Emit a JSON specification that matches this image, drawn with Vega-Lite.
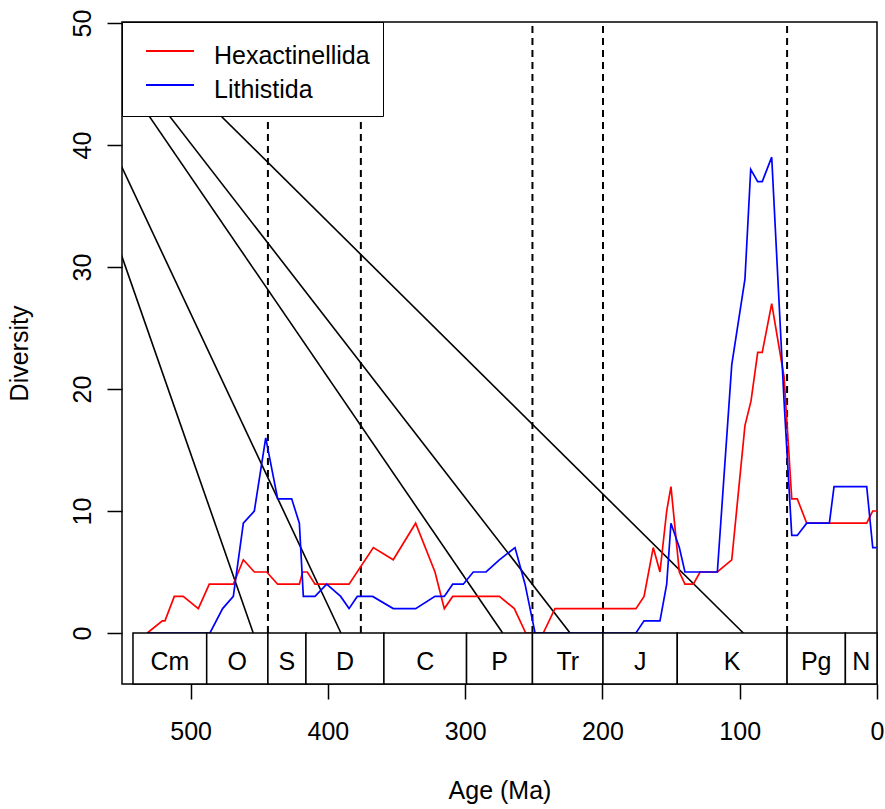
{
  "$schema": "https://vega.github.io/schema/vega-lite/v6.json",
  "width": 755,
  "height": 662,
  "autosize": "none",
  "padding": {"left": 122, "top": 22, "right": 8, "bottom": 125},
  "background": "white",
  "config": {
    "view": {"stroke": "black", "strokeWidth": 1.5},
    "font": "Liberation Sans",
    "text": {"font": "Liberation Sans"}
  },
  "datasets": {
    "div": [
      {"taxon": "Hexactinellida", "age": 531.6, "div": 0},
      {"taxon": "Hexactinellida", "age": 520.6, "div": 1},
      {"taxon": "Hexactinellida", "age": 518.7, "div": 1},
      {"taxon": "Hexactinellida", "age": 511.9, "div": 3},
      {"taxon": "Hexactinellida", "age": 505.4, "div": 3},
      {"taxon": "Hexactinellida", "age": 494.4, "div": 2},
      {"taxon": "Hexactinellida", "age": 486.4, "div": 4},
      {"taxon": "Hexactinellida", "age": 468.9, "div": 4},
      {"taxon": "Hexactinellida", "age": 461.6, "div": 6},
      {"taxon": "Hexactinellida", "age": 453.6, "div": 5},
      {"taxon": "Hexactinellida", "age": 444.6, "div": 5},
      {"taxon": "Hexactinellida", "age": 436.6, "div": 4},
      {"taxon": "Hexactinellida", "age": 420.8, "div": 4},
      {"taxon": "Hexactinellida", "age": 418.4, "div": 5},
      {"taxon": "Hexactinellida", "age": 415.0, "div": 5},
      {"taxon": "Hexactinellida", "age": 409.4, "div": 4},
      {"taxon": "Hexactinellida", "age": 384.6, "div": 4},
      {"taxon": "Hexactinellida", "age": 366.9, "div": 7},
      {"taxon": "Hexactinellida", "age": 352.4, "div": 6},
      {"taxon": "Hexactinellida", "age": 336.1, "div": 9},
      {"taxon": "Hexactinellida", "age": 322.0, "div": 5},
      {"taxon": "Hexactinellida", "age": 315.2, "div": 2},
      {"taxon": "Hexactinellida", "age": 309.1, "div": 3},
      {"taxon": "Hexactinellida", "age": 275.1, "div": 3},
      {"taxon": "Hexactinellida", "age": 264.2, "div": 2},
      {"taxon": "Hexactinellida", "age": 255.9, "div": 0},
      {"taxon": "Hexactinellida", "age": 243.1, "div": 0},
      {"taxon": "Hexactinellida", "age": 234.6, "div": 2},
      {"taxon": "Hexactinellida", "age": 175.6, "div": 2},
      {"taxon": "Hexactinellida", "age": 169.7, "div": 3},
      {"taxon": "Hexactinellida", "age": 163.0, "div": 7},
      {"taxon": "Hexactinellida", "age": 158.1, "div": 5},
      {"taxon": "Hexactinellida", "age": 153.2, "div": 10},
      {"taxon": "Hexactinellida", "age": 150.1, "div": 12},
      {"taxon": "Hexactinellida", "age": 144.0, "div": 5},
      {"taxon": "Hexactinellida", "age": 139.9, "div": 4},
      {"taxon": "Hexactinellida", "age": 133.8, "div": 4},
      {"taxon": "Hexactinellida", "age": 128.9, "div": 5},
      {"taxon": "Hexactinellida", "age": 116.3, "div": 5},
      {"taxon": "Hexactinellida", "age": 105.8, "div": 6},
      {"taxon": "Hexactinellida", "age": 96.2, "div": 17},
      {"taxon": "Hexactinellida", "age": 91.8, "div": 19},
      {"taxon": "Hexactinellida", "age": 86.9, "div": 23},
      {"taxon": "Hexactinellida", "age": 83.6, "div": 23},
      {"taxon": "Hexactinellida", "age": 76.7, "div": 27},
      {"taxon": "Hexactinellida", "age": 67.7, "div": 21},
      {"taxon": "Hexactinellida", "age": 62.1, "div": 11},
      {"taxon": "Hexactinellida", "age": 58.1, "div": 11},
      {"taxon": "Hexactinellida", "age": 51.2, "div": 9},
      {"taxon": "Hexactinellida", "age": 7.5, "div": 9},
      {"taxon": "Hexactinellida", "age": 3.1, "div": 10},
      {"taxon": "Hexactinellida", "age": 0.2, "div": 10},
      {"taxon": "Lithistida", "age": 531.6, "div": 0},
      {"taxon": "Lithistida", "age": 485.9, "div": 0},
      {"taxon": "Lithistida", "age": 476.7, "div": 2},
      {"taxon": "Lithistida", "age": 468.9, "div": 3},
      {"taxon": "Lithistida", "age": 461.6, "div": 9},
      {"taxon": "Lithistida", "age": 453.6, "div": 10},
      {"taxon": "Lithistida", "age": 445.3, "div": 16},
      {"taxon": "Lithistida", "age": 436.6, "div": 11},
      {"taxon": "Lithistida", "age": 426.4, "div": 11},
      {"taxon": "Lithistida", "age": 420.8, "div": 9},
      {"taxon": "Lithistida", "age": 417.9, "div": 3},
      {"taxon": "Lithistida", "age": 409.4, "div": 3},
      {"taxon": "Lithistida", "age": 400.9, "div": 4},
      {"taxon": "Lithistida", "age": 390.7, "div": 3},
      {"taxon": "Lithistida", "age": 384.6, "div": 2},
      {"taxon": "Lithistida", "age": 378.6, "div": 3},
      {"taxon": "Lithistida", "age": 367.4, "div": 3},
      {"taxon": "Lithistida", "age": 352.4, "div": 2},
      {"taxon": "Lithistida", "age": 336.1, "div": 2},
      {"taxon": "Lithistida", "age": 322.0, "div": 3},
      {"taxon": "Lithistida", "age": 315.2, "div": 3},
      {"taxon": "Lithistida", "age": 309.1, "div": 4},
      {"taxon": "Lithistida", "age": 301.4, "div": 4},
      {"taxon": "Lithistida", "age": 294.1, "div": 5},
      {"taxon": "Lithistida", "age": 284.8, "div": 5},
      {"taxon": "Lithistida", "age": 275.1, "div": 6},
      {"taxon": "Lithistida", "age": 263.7, "div": 7},
      {"taxon": "Lithistida", "age": 256.4, "div": 4},
      {"taxon": "Lithistida", "age": 249.1, "div": 0},
      {"taxon": "Lithistida", "age": 175.6, "div": 0},
      {"taxon": "Lithistida", "age": 169.7, "div": 1},
      {"taxon": "Lithistida", "age": 158.1, "div": 1},
      {"taxon": "Lithistida", "age": 153.2, "div": 4},
      {"taxon": "Lithistida", "age": 150.1, "div": 9},
      {"taxon": "Lithistida", "age": 144.0, "div": 7},
      {"taxon": "Lithistida", "age": 139.9, "div": 5},
      {"taxon": "Lithistida", "age": 116.3, "div": 5},
      {"taxon": "Lithistida", "age": 105.8, "div": 22},
      {"taxon": "Lithistida", "age": 96.2, "div": 29},
      {"taxon": "Lithistida", "age": 92.0, "div": 38},
      {"taxon": "Lithistida", "age": 86.9, "div": 37},
      {"taxon": "Lithistida", "age": 83.6, "div": 37},
      {"taxon": "Lithistida", "age": 76.7, "div": 39},
      {"taxon": "Lithistida", "age": 67.7, "div": 19},
      {"taxon": "Lithistida", "age": 62.1, "div": 8},
      {"taxon": "Lithistida", "age": 58.1, "div": 8},
      {"taxon": "Lithistida", "age": 51.2, "div": 9},
      {"taxon": "Lithistida", "age": 34.7, "div": 9},
      {"taxon": "Lithistida", "age": 31.3, "div": 12},
      {"taxon": "Lithistida", "age": 7.5, "div": 12},
      {"taxon": "Lithistida", "age": 3.1, "div": 7},
      {"taxon": "Lithistida", "age": 0.2, "div": 7}
    ],
    "periods": [
      {"period": "Cm", "start": 542.0, "end": 488.3},
      {"period": "O", "start": 488.3, "end": 443.7},
      {"period": "S", "start": 443.7, "end": 416.0},
      {"period": "D", "start": 416.0, "end": 359.2},
      {"period": "C", "start": 359.2, "end": 299.0},
      {"period": "P", "start": 299.0, "end": 251.0},
      {"period": "Tr", "start": 251.0, "end": 199.6},
      {"period": "J", "start": 199.6, "end": 145.5},
      {"period": "K", "start": 145.5, "end": 65.5},
      {"period": "Pg", "start": 65.5, "end": 23.03},
      {"period": "N", "start": 23.03, "end": 0}
    ],
    "bounds": [
      {"age": 443.7},
      {"age": 376.0},
      {"age": 251.0},
      {"age": 199.6},
      {"age": 65.5}
    ],
    "diag": [
      {"a0": 454.4, "d0": 0, "a1": 640.4, "d1": 60},
      {"a0": 390.5, "d0": 0, "a1": 641.3, "d1": 60},
      {"a0": 272.7, "d0": 0, "a1": 637.4, "d1": 60},
      {"a0": 223.6, "d0": 0, "a1": 636.8, "d1": 60},
      {"a0": 97.4, "d0": 0, "a1": 636.2, "d1": 60}
    ]
  },
  "layer": [
    {
      "data": {"name": "diag"},
      "mark": {"type": "rule", "clip": true, "color": "black", "strokeWidth": 1.6},
      "encoding": {
        "x": {"field": "a0", "type": "quantitative", "scale": {"domain": [550, 0], "nice": false, "zero": false},
          "axis": {
            "values": [0, 100, 200, 300, 400, 500],
            "domain": false, "grid": false,
            "tickSize": 15, "tickWidth": 1.5, "tickColor": "black",
            "labelFont": "Liberation Sans", "labelFontSize": 25, "labelColor": "black",
            "labelBaseline": "alphabetic", "labelPadding": 40, "labelFlush": false, "labelOverlap": false,
            "title": "Age (Ma)", "titleFont": "Liberation Sans", "titleFontSize": 25, "titleFontWeight": "normal", "titleColor": "black",
            "titleX": 377.5, "titleY": 114, "titleBaseline": "alphabetic", "titleAlign": "center"
          }},
        "y": {"field": "d0", "type": "quantitative", "scale": {"domain": [-4.18, 50.08], "nice": false, "zero": false},
          "axis": {
            "values": [0, 10, 20, 30, 40, 50],
            "domain": false, "grid": false,
            "tickSize": 15, "tickWidth": 1.5, "tickColor": "black",
            "labelFont": "Liberation Sans", "labelFontSize": 25, "labelColor": "black",
            "labelAngle": -90, "labelAlign": "center", "labelBaseline": "alphabetic", "labelPadding": 17, "labelOverlap": false, "labelFlush": false,
            "title": "Diversity", "titleFont": "Liberation Sans", "titleFontSize": 25, "titleFontWeight": "normal", "titleColor": "black",
            "titleAngle": -90, "titleX": -94.4, "titleY": 331, "titleBaseline": "alphabetic", "titleAlign": "center"
          }},
        "x2": {"field": "a1"},
        "y2": {"field": "d1"}
      }
    },
    {
      "data": {"name": "bounds"},
      "mark": {"type": "rule", "clip": true, "color": "black", "strokeWidth": 2, "strokeDash": [7, 5]},
      "encoding": {
        "x": {"field": "age", "type": "quantitative"},
        "y": {"datum": 0, "type": "quantitative"},
        "y2": {"datum": 50.08}
      }
    },
    {
      "data": {"name": "div"},
      "mark": {"type": "line", "strokeWidth": 1.7, "clip": true},
      "encoding": {
        "x": {"field": "age", "type": "quantitative"},
        "y": {"field": "div", "type": "quantitative"},
        "color": {
          "field": "taxon", "type": "nominal",
          "scale": {"domain": ["Hexactinellida", "Lithistida"], "range": ["#FF0000", "#0000FF"]},
          "legend": {
            "title": null,
            "orient": "top-left",
            "offset": 0,
            "padding": 13,
            "fillColor": "white",
            "strokeColor": "black",
            "symbolType": "stroke",
            "symbolSize": 2304,
            "symbolStrokeWidth": 2,
            "symbolOffset": 10,
            "labelOffset": 19,
            "clipHeight": 32,
            "rowPadding": 0,
            "labelFont": "Liberation Sans",
            "labelFontSize": 25,
            "labelColor": "black",
            "labelLimit": 400,
            "encode": {
              "labels": {"update": {"dy": {"value": 5}}},
              "symbols": {"update": {"dy": {"value": 2}}}
            }
          }
        }
      }
    },
    {
      "data": {"name": "periods"},
      "mark": {"type": "rect", "fill": "white", "stroke": "black", "strokeWidth": 1.5},
      "encoding": {
        "x": {"field": "start", "type": "quantitative"},
        "x2": {"field": "end"},
        "y": {"datum": 0, "type": "quantitative"},
        "y2": {"datum": -4.18}
      }
    },
    {
      "data": {"name": "periods"},
      "transform": [{"calculate": "(datum.start + datum.end) / 2", "as": "mid"}],
      "mark": {"type": "text", "fontSize": 25, "font": "Liberation Sans", "color": "black", "baseline": "alphabetic", "align": "center"},
      "encoding": {
        "x": {"field": "mid", "type": "quantitative"},
        "y": {"datum": -3.03, "type": "quantitative"},
        "text": {"field": "period"}
      }
    }
  ]
}
